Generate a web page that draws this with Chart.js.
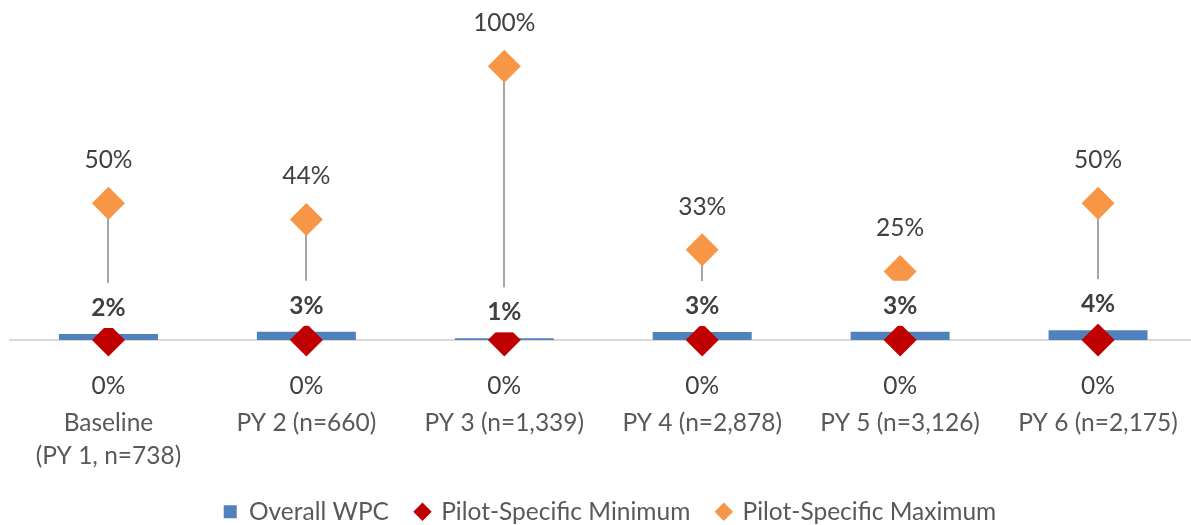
<!DOCTYPE html>
<html>
<head>
<meta charset="utf-8">
<script src="https://cdn.jsdelivr.net/npm/chart.js@4.4.1/dist/chart.umd.min.js"></script>
<style>
  html, body { margin: 0; padding: 0; background: #fff; overflow: hidden; }
  #wrap { width: 1191px; height: 525px; overflow: hidden; position: relative; }
  /* chart.js keeps a minimum padding of half a marker round the plot,
     so the canvas is a little bigger than the window and shifted */
  #chart { position: absolute; left: -7px; top: -5px; }
</style>
</head>
<body>
<div id="wrap">
  <canvas id="chart" width="1234" height="539"></canvas>
</div>
<script>
/* ---------- data ---------- */
const categories = [
  ["Baseline", "(PY 1, n=738)"],
  "PY 2 (n=660)",
  "PY 3 (n=1,339)",
  "PY 4 (n=2,878)",
  "PY 5 (n=3,126)",
  "PY 6 (n=2,175)"
];
const overallWPC = [2.2, 3.0, 0.6, 2.9, 3.0, 3.6];
const pilotMin = [0, 0, 0, 0, 0, 0];
const pilotMax = [50, 44, 100, 33, 25, 50];

/* ---------- look ---------- */
const FONT = "Lato";
const FONT_SIZE = 24.5;
const LABEL_COLOR = "#404040";
const AXIS_COLOR = "#595959";

/* high-low lines between min and max, drawn under the markers */
const hiLowLines = {
  id: "hiLowLines",
  beforeDatasetsDraw(chart) {
    const { ctx, scales: { x, y } } = chart;
    ctx.save();
    ctx.strokeStyle = "#A6A6A6";
    ctx.lineWidth = 2;
    categories.forEach((c, i) => {
      const px = Math.round(x.getPixelForValue(i));
      ctx.beginPath();
      ctx.moveTo(px, y.getPixelForValue(pilotMax[i]));
      ctx.lineTo(px, y.getPixelForValue(pilotMin[i]));
      ctx.stroke();
    });
    ctx.restore();
  }
};

/* data labels: max above, min below, bar value in bold on a white box */
const dataLabels = {
  id: "dataLabels",
  afterDatasetsDraw(chart) {
    const { ctx, scales: { x, y } } = chart;
    ctx.save();
    ctx.textAlign = "center";
    ctx.textBaseline = "middle";
    categories.forEach((c, i) => {
      const px = x.getPixelForValue(i);

      // bar value
      const top = y.getPixelForValue(overallWPC[i]);
      ctx.fillStyle = "#fff";
      ctx.fillRect(px - 30, top - 51, 60, 45);
      ctx.fillStyle = LABEL_COLOR;
      ctx.font = "bold " + FONT_SIZE + "px " + FONT;
      ctx.fillText(Math.round(overallWPC[i]) + "%", px, top - 26);

      ctx.font = FONT_SIZE + "px " + FONT;
      ctx.fillText(pilotMax[i] + "%", px, y.getPixelForValue(pilotMax[i]) - 43);
      ctx.fillText(pilotMin[i] + "%", px, y.getPixelForValue(pilotMin[i]) + 46);
    });
    ctx.restore();
  }
};

new Chart(document.getElementById("chart").getContext("2d"), {
  data: {
    labels: categories,
    datasets: [
      {
        type: "bar",
        label: "Overall WPC",
        data: overallWPC,
        backgroundColor: "#4F81BD",
        pointStyle: "rect",
        barPercentage: 0.5,
        categoryPercentage: 1.0,
        order: 2
      },
      {
        type: "line",
        label: "Pilot-Specific Minimum",
        data: pilotMin,
        showLine: false,
        backgroundColor: "#C00000",
        borderColor: "#C00000",
        pointBackgroundColor: "#C00000",
        pointStyle: "rectRot",
        pointRadius: 16.5,
        pointBorderWidth: 0,
        clip: false,
        order: 0
      },
      {
        type: "line",
        label: "Pilot-Specific Maximum",
        data: pilotMax,
        showLine: false,
        backgroundColor: "#F79646",
        borderColor: "#F79646",
        pointBackgroundColor: "#F79646",
        pointStyle: "rectRot",
        pointRadius: 16.5,
        pointBorderWidth: 0,
        clip: false,
        order: 1
      }
    ]
  },
  options: {
    responsive: false,
    animation: false,
    layout: { padding: 0 },
    scales: {
      x: {
        offset: true,
        grid: {
          display: true,
          drawOnChartArea: false,
          drawTicks: true,
          tickLength: 66.5,
          tickColor: "rgba(0,0,0,0)"
        },
        border: { display: true, color: "#D9D9D9", width: 2 },
        ticks: {
          color: AXIS_COLOR,
          padding: 0,
          maxRotation: 0,
          autoSkip: false,
          font: { family: FONT, size: FONT_SIZE, lineHeight: 33 / FONT_SIZE }
        },
        afterFit(scale) { scale.height = 132.5; }
      },
      y: {
        position: "right",
        min: 0,
        max: 120,
        grid: { display: false, drawTicks: false },
        border: { display: false },
        ticks: { display: false },
        afterFit(scale) { scale.width = 30; }
      }
    },
    plugins: {
      tooltip: { enabled: false },
      legend: {
        position: "bottom",
        labels: {
          usePointStyle: true,
          boxWidth: 13,
          boxHeight: 13,
          padding: 27,
          color: AXIS_COLOR,
          font: { family: FONT, size: FONT_SIZE },
          sort: (a, b) => a.datasetIndex - b.datasetIndex
        }
      }
    }
  },
  plugins: [hiLowLines, dataLabels]
});
</script>
</body>
</html>
